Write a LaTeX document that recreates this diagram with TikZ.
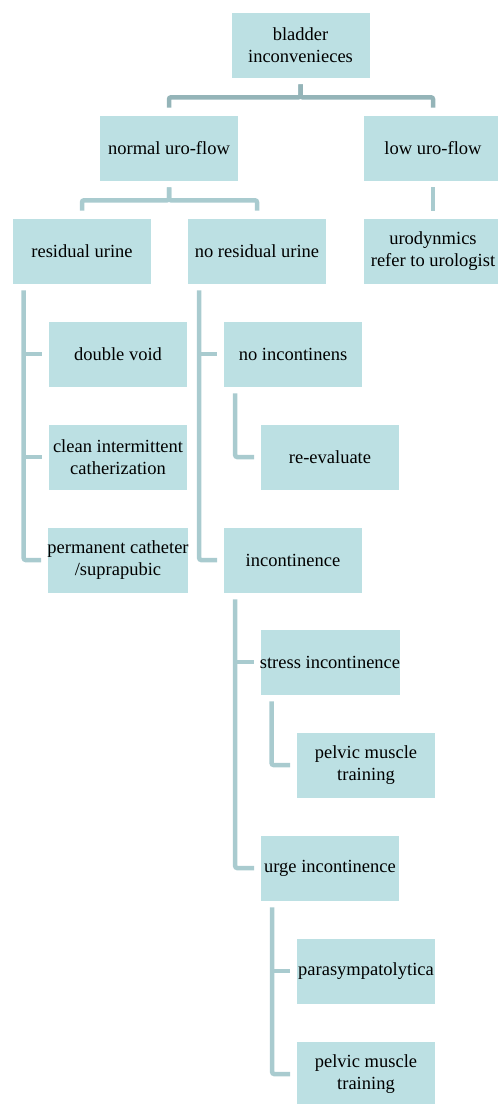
\documentclass[tikz,border=0pt]{standalone}
\usepackage{fontspec}
\setmainfont{Liberation Serif}
\definecolor{boxfill}{HTML}{BCE0E3}
\definecolor{linecol}{HTML}{A9CBCF}
\definecolor{toplinecol}{HTML}{94B4B8}
\begin{document}
\begin{tikzpicture}[x=1pt,y=-1pt,
    box/.style={fill=boxfill, draw=white, line width=0.6pt, minimum width=139pt, minimum height=66pt, inner sep=0pt, align=center, font=\fontsize{18.5}{22}\selectfont},
    conn/.style={draw=linecol, line width=4.5pt, rounded corners=2pt, shorten >=6pt},
    topconn/.style={conn, draw=toplinecol, shorten <=6pt, shorten >=7pt}]
            \useasboundingbox (0,0) rectangle (498,1104);
            \node [box] (bladder) at (300.5,45) {bladder\\inconvenieces};
            \node [box] (normal) at (169,148) {normal uro-flow};
            \node [box] (low) at (433,148) {low uro-flow};
            \node [box] (resid) at (82,251) {residual urine};
            \node [box] (nores) at (257,251) {no residual urine};
            \node [box] (urody) at (433,251) {urodynmics\\refer to urologist};
            \node [box] (dvoid) at (118,354) {double void};
            \node [box] (clean) at (118,457) {clean intermittent\\catherization};
            \node [box] (perm) at (118,560) {permanent catheter\\/suprapubic};
            \node [box] (noinc) at (293,354) {no incontinens};
            \node [box] (reeval) at (330,457) {re-evaluate};
            \node [box] (incont) at (293,560) {incontinence};
            \node [box] (stress) at (330,662) {stress incontinence};
            \node [box] (pelvicA) at (366,765) {pelvic muscle\\training};
            \node [box] (urge) at (330,868) {urge incontinence};
            \node [box] (para) at (366,971) {parasympatolytica};
            \node [box] (pelvicB) at (366,1074) {pelvic muscle\\training};
            % top level
            \draw [topconn] (bladder.south) -- ++(0,19) -| (normal.north);
            \draw [topconn] (bladder.south) -- ++(0,19) -| (low.north);
            \draw [topconn, draw=linecol] (normal.south) -- ++(0,19) -| (resid.north);
            \draw [topconn, draw=linecol] (normal.south) -- ++(0,19) -| (nores.north);
            \draw [topconn, draw=linecol, rounded corners=0pt] (low.south) -- (urody.north);
            % residual urine
            \draw [conn] ([shift={(11.5,6)}]resid.south west) coordinate (rtrunk) |- (perm.west);
            \draw [conn] (rtrunk |- dvoid.west) -- (dvoid.west);
            \draw [conn] (rtrunk |- clean.west) -- (clean.west);
            % no residual urine
            \draw [conn] ([shift={(12,6)}]nores.south west) coordinate (ntrunk) |- (incont.west);
            \draw [conn] (ntrunk |- noinc.west) -- (noinc.west);
            \draw [conn] ([shift={(12,6)}]noinc.south west) |- (reeval.west);
            % incontinence
            \draw [conn] ([shift={(12,6)}]incont.south west) coordinate (itrunk) |- (urge.west);
            \draw [conn] (itrunk |- stress.west) -- (stress.west);
            \draw [conn] ([shift={(12,6)}]stress.south west) |- (pelvicA.west);
            \draw [conn] ([shift={(12,6)}]urge.south west) coordinate (utrunk) |- (pelvicB.west);
            \draw [conn] (utrunk |- para.west) -- (para.west);
\end{tikzpicture}
\end{document}
